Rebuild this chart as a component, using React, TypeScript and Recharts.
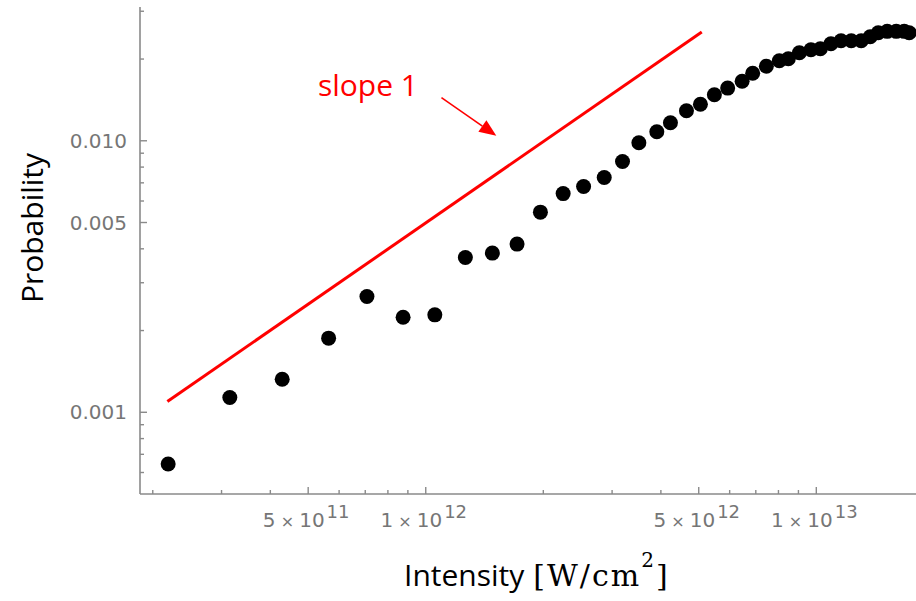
import React from "react";
import {
  ScatterChart,
  Scatter,
  XAxis,
  YAxis,
  ReferenceLine,
} from "recharts";

// measured points (intensity in W/cm^2, probability)
const INTENSITY = [
  2.19e11, 3.15e11, 4.29e11, 5.64e11, 7.07e11, 8.75e11, 1.055e12, 1.263e12,
  1.481e12, 1.713e12, 1.966e12, 2.248e12, 2.536e12, 2.864e12, 3.19e12,
  3.513e12, 3.905e12, 4.232e12, 4.651e12, 5.05e12, 5.483e12, 5.93e12,
  6.457e12, 6.872e12, 7.449e12, 8.04e12, 8.48e12, 9.05e12, 9.69e12, 1.024e13,
  1.09e13, 1.157e13, 1.229e13, 1.303e13, 1.374e13, 1.441e13, 1.519e13,
  1.602e13, 1.679e13, 1.729e13,
];
const PROBABILITY = [
  6.45e-4, 1.133e-3, 1.324e-3, 1.875e-3, 2.67e-3, 2.24e-3, 2.285e-3, 3.715e-3,
  3.857e-3, 4.163e-3, 5.46e-3, 6.39e-3, 6.785e-3, 7.32e-3, 8.39e-3, 9.83e-3,
  1.079e-2, 1.165e-2, 1.29e-2, 1.363e-2, 1.477e-2, 1.563e-2, 1.656e-2,
  1.773e-2, 1.882e-2, 1.971e-2, 2.005e-2, 2.11e-2, 2.164e-2, 2.183e-2,
  2.277e-2, 2.336e-2, 2.336e-2, 2.336e-2, 2.416e-2, 2.5e-2, 2.53e-2, 2.53e-2,
  2.53e-2, 2.5e-2,
];

// slope-1 guide line
const SLOPE_X = [2.18e11, 5.09e12];
const SLOPE_Y = [1.095e-3, 2.515e-2];

// annotation arrow (start -> tip)
const ARROW_X = [1.097e12, 1.516e12];
const ARROW_Y = [1.443e-2, 1.043e-2];

const X_DOMAIN = [1.855e11, 1.8e13];
const Y_DOMAIN = [0.0005, 0.0311];

const X_TICKS = [
  2e11, 3e11, 4e11, 5e11, 6e11, 7e11, 8e11, 9e11, 1e12, 2e12, 3e12, 4e12,
  5e12, 6e12, 7e12, 8e12, 9e12, 1e13,
];
const X_MAJOR = [5e11, 1e12, 5e12, 1e13];
const X_MANTISSA = ["5", "1", "5", "1"];
const X_EXPONENT = ["11", "12", "12", "13"];

const Y_TICKS = [
  6e-4, 7e-4, 8e-4, 9e-4, 1e-3, 2e-3, 3e-3, 4e-3, 5e-3, 6e-3, 7e-3, 8e-3,
  9e-3, 1e-2, 2e-2, 3e-2,
];
const Y_MAJOR = [1e-3, 5e-3, 1e-2];

const AXIS_COLOR = "#8a8a8a";
const TICK_TEXT = "#767676";

const points = INTENSITY.map((x, i) => ({ x, y: PROBABILITY[i] }));
const slopeLine = SLOPE_X.map((x, i) => ({ x, y: SLOPE_Y[i] }));

const majorIndex = (list: number[], v: number) =>
  list.findIndex((m) => Math.abs(v - m) / m < 1e-6);

const XTick = (props: any) => {
  const { x, y, payload } = props;
  const k = majorIndex(X_MAJOR, payload.value);
  return (
    <g>
      <line
        x1={x}
        x2={x}
        y1={y}
        y2={y - (k >= 0 ? 7 : 4)}
        stroke={AXIS_COLOR}
        strokeWidth={1.4}
      />
      {k >= 0 && (
        <text
          x={x - 2}
          y={y + 33}
          textAnchor="middle"
          fontFamily="DejaVu Sans"
          fontSize={20}
          fill={TICK_TEXT}
        >
          <tspan>{X_MANTISSA[k]}</tspan>
          <tspan fontSize={16}>{" \u00d7 "}</tspan>
          <tspan>10</tspan>
          <tspan dx={2} dy={-9} fontSize={18}>
            {X_EXPONENT[k]}
          </tspan>
        </text>
      )}
    </g>
  );
};

const YTick = (props: any) => {
  const { x, y, payload } = props;
  const k = majorIndex(Y_MAJOR, payload.value);
  return (
    <g>
      <line
        x1={x}
        x2={x + (k >= 0 ? 7 : 4)}
        y1={y}
        y2={y}
        stroke={AXIS_COLOR}
        strokeWidth={1.4}
      />
      {k >= 0 && (
        <text
          x={x - 13}
          y={y + 7}
          textAnchor="end"
          fontFamily="DejaVu Sans"
          fontSize={20}
          fill={TICK_TEXT}
        >
          {payload.value.toFixed(3)}
        </text>
      )}
    </g>
  );
};

// arrow drawn from the reference segment end points
const ArrowShape = (props: any) => {
  const { x1, y1, x2, y2 } = props;
  const dx = x2 - x1;
  const dy = y2 - y1;
  const len = Math.sqrt(dx * dx + dy * dy) || 1;
  const ux = dx / len;
  const uy = dy / len;
  const head = 17;
  const half = 7;
  const bx = x2 - ux * head;
  const by = y2 - uy * head;
  return (
    <g>
      <line x1={x1} y1={y1} x2={bx} y2={by} stroke="#ff0000" strokeWidth={1.6} />
      <polygon
        points={`${x2},${y2} ${bx - uy * half},${by + ux * half} ${bx + uy * half},${by - ux * half}`}
        fill="#ff0000"
      />
    </g>
  );
};

const Dot = (props: any) => (
  <circle cx={props.cx} cy={props.cy} r={7.5} fill="#000000" />
);

const Nothing = () => <g />;

export default function App() {
  return (
    <div
      style={{
        position: "absolute",
        left: 0,
        top: 0,
        width: 916,
        height: 601,
        background: "#ffffff",
        overflow: "hidden",
      }}
    >
      <ScatterChart
        width={916}
        height={601}
        margin={{ top: 7, right: 0, bottom: 0, left: 0 }}
      >
        <XAxis
          type="number"
          dataKey="x"
          scale="log"
          domain={X_DOMAIN}
          allowDataOverflow
          ticks={X_TICKS}
          interval={0}
          tick={XTick}
          tickLine={false}
          tickSize={0}
          tickMargin={0}
          height={107}
          axisLine={{ stroke: AXIS_COLOR, strokeWidth: 1.6 }}
        />
        <YAxis
          type="number"
          dataKey="y"
          scale="log"
          domain={Y_DOMAIN}
          allowDataOverflow
          ticks={Y_TICKS}
          interval={0}
          tick={YTick}
          tickLine={false}
          tickSize={0}
          tickMargin={0}
          width={140}
          axisLine={{ stroke: AXIS_COLOR, strokeWidth: 1.6 }}
        />
        <Scatter
          data={slopeLine}
          line={{ stroke: "#ff0000", strokeWidth: 3 }}
          shape={Nothing}
          isAnimationActive={false}
        />
        <Scatter data={points} shape={Dot} isAnimationActive={false} />
        <ReferenceLine
          segment={[
            { x: ARROW_X[0], y: ARROW_Y[0] },
            { x: ARROW_X[1], y: ARROW_Y[1] },
          ]}
          ifOverflow="visible"
          shape={ArrowShape}
        />
      </ScatterChart>
      <svg
        width={916}
        height={601}
        style={{ position: "absolute", left: 0, top: 0, pointerEvents: "none" }}
      >
        <text
          x={368}
          y={96}
          textAnchor="middle"
          fontFamily="Open Sans"
          fontSize={30}
          fill="#ff0000"
        >
          slope 1
        </text>
        <text
          transform="translate(43,228) rotate(-90)"
          textAnchor="middle"
          fontFamily="Open Sans"
          fontSize={30}
          fill="#000000"
        >
          Probability
        </text>
        <text x={404} y={586} fontSize={30} fill="#000000">
          <tspan fontFamily="Open Sans">Intensity</tspan>
          <tspan dx={9} fontFamily="DejaVu Serif" fontSize={30} letterSpacing={2}>
            [W/cm
          </tspan>
          <tspan dy={-19} fontFamily="DejaVu Serif" fontSize={20}>
            2
          </tspan>
          <tspan dx={2} dy={19} fontFamily="DejaVu Serif" fontSize={30}>
            ]
          </tspan>
        </text>
      </svg>
    </div>
  );
}
